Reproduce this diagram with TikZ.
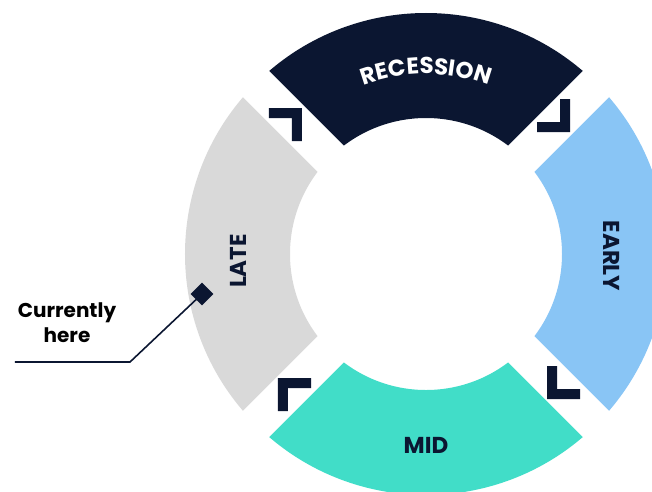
\documentclass[tikz,border=0pt]{standalone}
\usepackage{fontspec}
\setmainfont{Poppins}
\usepackage{tikz}
\usetikzlibrary{decorations.text}
\definecolor{navy}{HTML}{0B1631}
\definecolor{lategray}{HTML}{D9D9D9}
\definecolor{earlyblue}{HTML}{89C5F5}
\definecolor{midteal}{HTML}{41DDC8}
\tikzset{
  phaselabel/.style={text=navy, font=\bfseries\fontsize{23}{26}\selectfont, inner sep=0pt},
  gapline/.style={white, line width=37pt},
  turnmark/.pic={\fill[navy] (-33pt,0pt) -- (0pt,0pt) -- (0pt,-33pt) -- (-10pt,-33pt) -- (-10pt,-10pt) -- (-33pt,-10pt) -- cycle;},
  herelabel/.style={align=center, text=black, font=\bfseries\fontsize{20}{25}\selectfont}
}

\begin{document}
\begin{tikzpicture}[x=1pt, y=1pt]
  \useasboundingbox (-426pt,-237pt) rectangle (226pt,254pt);
  % ring segments
  \foreach \a/\col in {45/navy, -45/earlyblue, 225/midteal, 135/lategray}
    \fill[\col] (\a:136pt) arc[start angle=\a, end angle=\a+90, radius=136pt]
      -- (\a+90:241pt) arc[start angle=\a+90, end angle=\a, radius=241pt] -- cycle;
  \draw[gapline] (135:260pt) -- (-45:260pt);
  \draw[gapline] (45:260pt) -- (225:260pt);
  % turn marks
  \pic[rotate=0] at (-124pt,146pt) {turnmark};
  \pic[rotate=-90] at (144pt,122pt) {turnmark};
  \pic[rotate=180] at (121pt,-145pt) {turnmark};
  \pic[rotate=90] at (-148pt,-124pt) {turnmark};
  % labels
  \path[decorate, decoration={text along path, text align=center,
    text={|\color{white}\bfseries\fontsize{23}{26}\selectfont|RECESSION}}]
    (130:180pt) arc[start angle=130, end angle=50, radius=180pt];
  \node[phaselabel, rotate=90] (late) at (-188pt,-7pt) {LATE};
  \node[phaselabel, rotate=-90] (early) at (186pt,-2pt) {EARLY};
  \node[phaselabel] (mid) at (0pt,-191pt) {MID};
  % current position
  \node[fill=navy, rotate=45, minimum size=16pt, inner sep=0pt] (here) at (-224pt,-40pt) {};
  \coordinate (bend) at (-296pt,-108pt);
  \coordinate (tail) at (-411pt,-108pt);
  \draw[navy, line width=1.6pt] (here.center) -- (bend) -- (tail);
  \node[herelabel] (herenote) at (-359pt,-69pt) {Currently\\here};
\end{tikzpicture}
\end{document}
